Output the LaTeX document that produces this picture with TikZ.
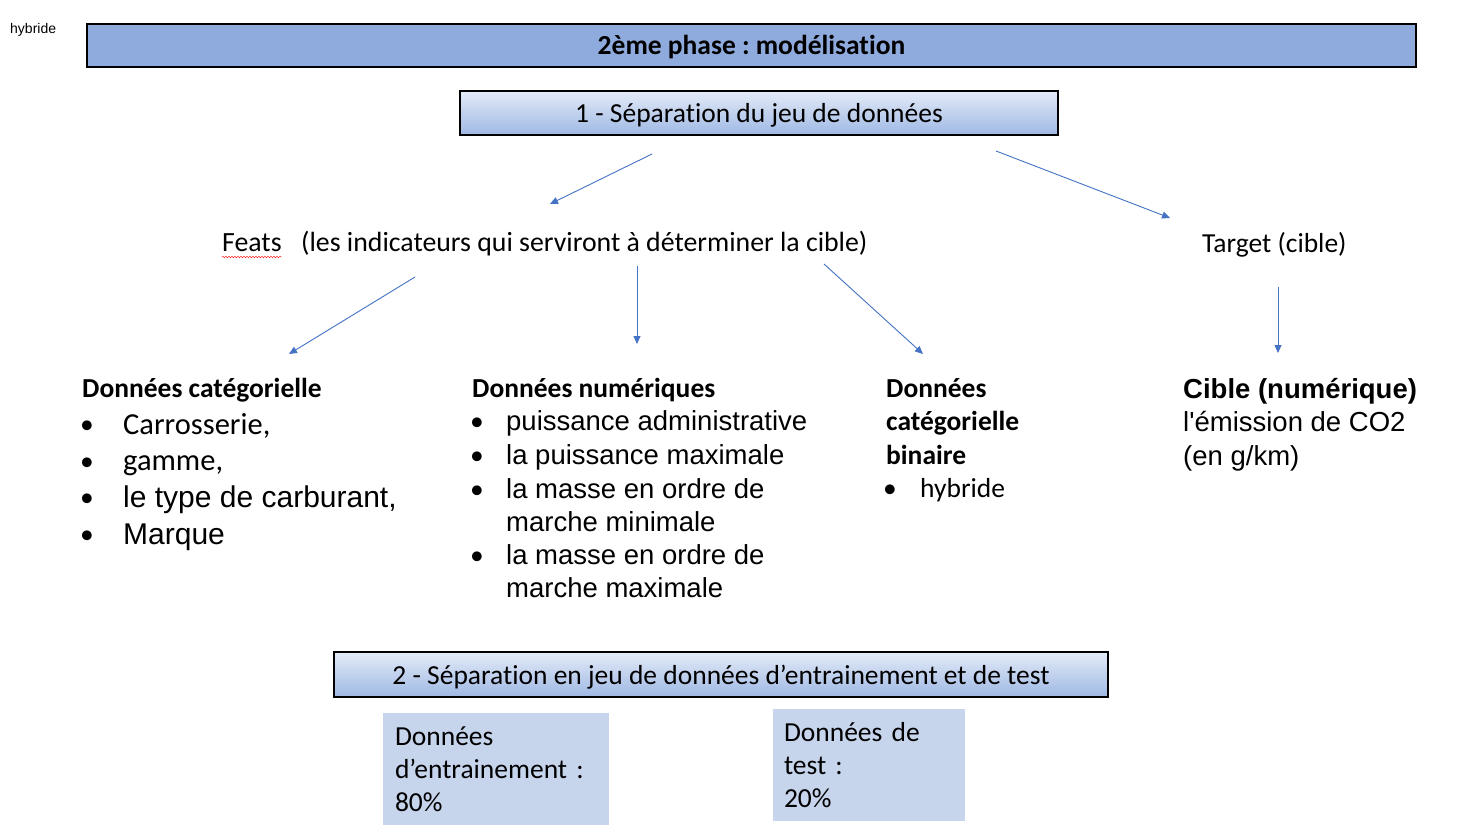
\documentclass[tikz,border=0pt]{standalone}
\usepackage{fontspec}
\setmainfont[Ligatures=NoCommon]{Carlito}
\newfontfamily\arialfont{Liberation Sans}
\usetikzlibrary{positioning, arrows.meta, calc, decorations.pathmorphing}
\definecolor{barblue}{RGB}{143,170,220}
\definecolor{linkblue}{RGB}{68,114,196}
\definecolor{paleblue}{RGB}{198,212,236}
\definecolor{shadetop}{RGB}{228,235,247}
\definecolor{shadebot}{RGB}{158,184,228}
\frenchspacing

\begin{document}
\begin{tikzpicture}[x=1pt,y=-1pt,
  big/.style={font=\fontsize{27.5}{33}\selectfont},
  txt/.style={anchor=base west,inner sep=0pt,font=\fontsize{27.5}{33}\selectfont},
  atxt/.style={anchor=base west,inner sep=0pt,font=\arialfont\fontsize{27.5}{33}\selectfont},
  head/.style={anchor=base west,inner sep=0pt,font=\bfseries\fontsize{27.5}{33}\selectfont},
  dot/.style={anchor=base,inner sep=0pt,font=\fontsize{27.5}{33}\selectfont},
  bar/.style={draw,line width=1.3pt,fill=barblue,inner sep=0pt,text height=21pt,text depth=2pt,font=\bfseries\fontsize{27.5}{33}\selectfont},
  phasebox/.style={draw,line width=1.2pt,top color=shadetop,bottom color=shadebot,inner sep=0pt,text height=22pt,text depth=2pt,big},
  splitbox/.style={fill=paleblue,align=left,inner ysep=0pt,big},
  link/.style={linkblue,line width=0.9pt,-{Triangle[length=8pt,width=7pt]}}]
\fill[white] (0,0) rectangle (1477,832);
\useasboundingbox (0,0) rectangle (1477,832);

\node[anchor=base west,inner sep=0pt,font=\arialfont\fontsize{14}{16}\selectfont] (tag) at (10,34) {hybride};
\node[bar,minimum width=1329pt,minimum height=43pt] (phase) at (751.5,45.5) {2ème phase : modélisation};
\node[phasebox,minimum width=598pt,minimum height=44pt] (sep1) at (759,113) {1 - Séparation du jeu de données};

% features and target
\node[txt,font=\fontsize{27.8}{33}\selectfont] (feats) at (222,251) {Feats};
\node[txt,font=\fontsize{27.8}{33}\selectfont] (featsnote) at (301,251) {(les indicateurs qui serviront à déterminer la cible)};
\draw[red,decorate,decoration={snake,amplitude=0.8pt,segment length=3pt}] ($(feats.base west)+(0,6)$) -- ($(feats.base east)+(0,6)$);
\node[txt] (target) at (1202,252) {Target (cible)};

\coordinate (sepL) at (652,154);
\coordinate (featsin) at (550,204);
\coordinate (sepR) at (996,151);
\coordinate (targetin) at (1170,218);
\draw[link] (sepL) -- (featsin);
\draw[link] (sepR) -- (targetin);

\coordinate (featsA) at (415,277);
\coordinate (catin) at (289,354);
\coordinate (featsB) at (637,266);
\coordinate (numin) at (637,344);
\coordinate (featsC) at (824,264);
\coordinate (binin) at (923,354);
\coordinate (targetout) at (1278,287);
\coordinate (ciblein) at (1278,353);
\draw[link] (featsA) -- (catin);
\draw[link] (featsB) -- (numin);
\draw[link] (featsC) -- (binin);
\draw[link] (targetout) -- (ciblein);

% categorical
\node[head] (cathead) at (82,397) {Données catégorielle};
\node[dot] at (87,433) {•};
\node[txt,font=\fontsize{30.5}{36}\selectfont] (cat1) at (123,434) {Carrosserie,};
\node[dot] at (87,470) {•};
\node[txt,font=\fontsize{30.5}{36}\selectfont] (cat2) at (123,470) {gamme,};
\node[dot] at (87,506) {•};
\node[atxt,font=\arialfont\fontsize{30}{36}\selectfont] (cat3) at (123,507) {le type de carburant,};
\node[dot] at (87,543) {•};
\node[atxt,font=\arialfont\fontsize{30}{36}\selectfont] (cat4) at (123,544) {Marque};

% numeric
\node[head] (numhead) at (472,397) {Données numériques};
\node[dot] at (477,430) {•};
\node[atxt] (num1) at (506,430) {puissance administrative};
\node[dot] at (477,464) {•};
\node[atxt] (num2) at (506,464) {la puissance maximale};
\node[dot] at (477,498) {•};
\node[atxt] (num3) at (506,498) {la masse en ordre de};
\node[atxt] (num3b) at (506,531) {marche minimale};
\node[dot] at (477,564) {•};
\node[atxt] (num4) at (506,564) {la masse en ordre de};
\node[atxt] (num4b) at (506,597) {marche maximale};

% binary
\node[head] (binhead) at (886,397) {Données};
\node[head] (binhead2) at (886,430) {catégorielle};
\node[head] (binhead3) at (886,464) {binaire};
\node[dot] at (890,497) {•};
\node[txt] (bin1) at (920,497) {hybride};

% target detail
\node[atxt,font=\arialfont\bfseries\fontsize{27.5}{33}\selectfont] (ciblehead) at (1183,398) {Cible (numérique)};
\node[atxt] (cible1) at (1183,431) {l'émission de CO2};
\node[atxt] (cible2) at (1183,465) {(en g/km)};

% train / test split
\node[phasebox,minimum width=774pt,minimum height=45pt] (sep2) at (721,674.5) {2 - Séparation en jeu de données d’entrainement et de test};
\node[splitbox,minimum width=226pt,minimum height=112pt,text width=202pt,inner xsep=12pt] (train) at (496,769) {Données\\d’entrainement :\\80\%};
\node[splitbox,minimum width=192pt,minimum height=112pt,text width=170pt,inner xsep=11pt] (test) at (869,765) {Données de\\test :\\20\%};
\end{tikzpicture}
\end{document}
